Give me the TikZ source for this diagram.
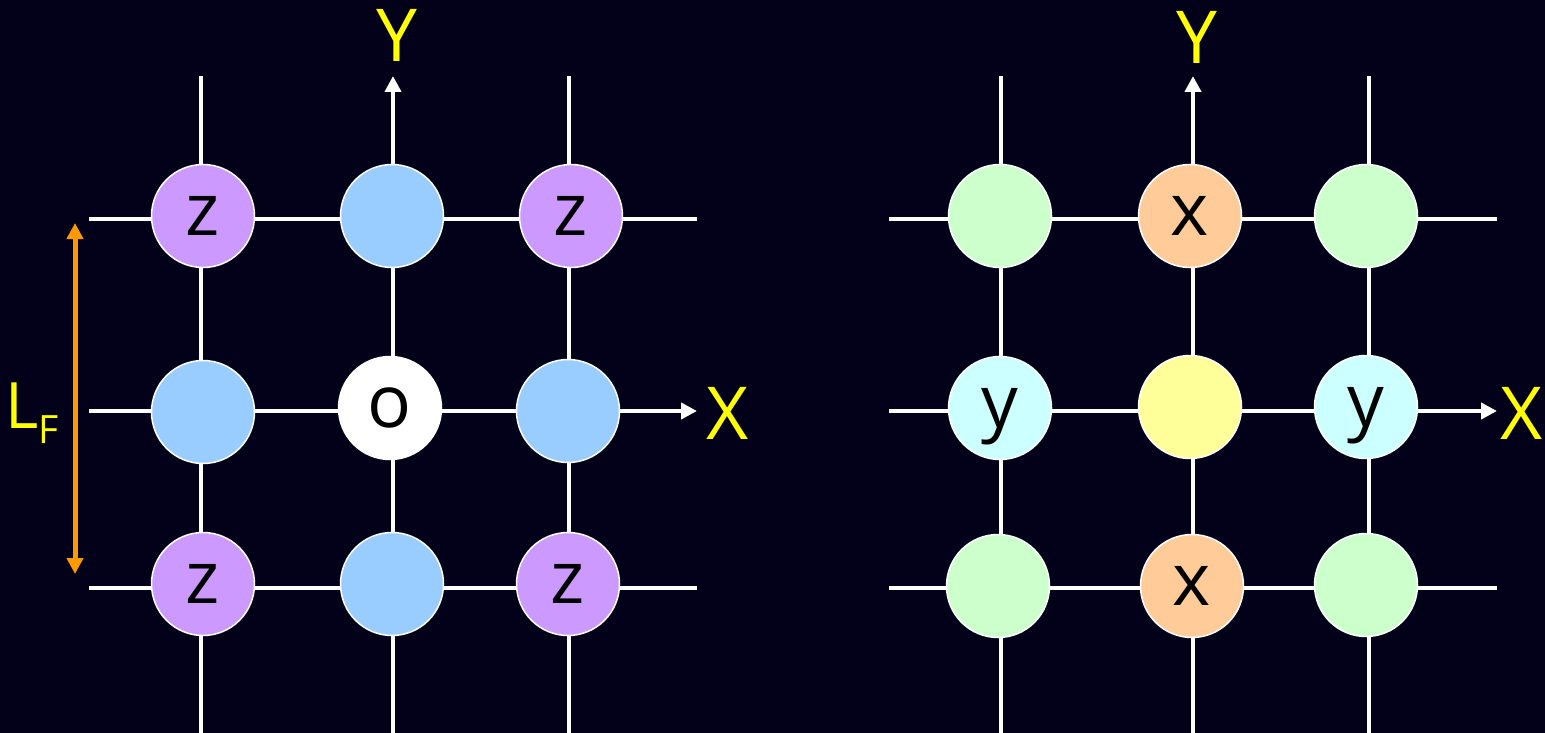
\documentclass[tikz,border=0pt]{standalone}
\usepackage{fontspec}
\setmainfont{Open Sans}
\usetikzlibrary{arrows.meta}
\definecolor{bg}{HTML}{03001A}
\definecolor{axisyellow}{HTML}{FFFF00}
\definecolor{lforange}{HTML}{FF9900}
\definecolor{zpurple}{HTML}{CC99FF}
\definecolor{nblue}{HTML}{99CCFF}
\definecolor{ngreen}{HTML}{CCFFCC}
\definecolor{xorange}{HTML}{FFCC99}
\definecolor{ycyan}{HTML}{CCFFFF}
\definecolor{cyellow}{HTML}{FFFF99}
\begin{document}
\begin{tikzpicture}[x=1pt,y=-1pt,
  gridline/.style={white,line width=4pt},
  axisarrow/.style={white,line width=4pt,-{Triangle[length=16pt,width=16pt]}},
  site/.style={circle,draw=white,line width=1.5pt,minimum size=103pt,inner sep=0pt,
    text depth=0pt,font=\fontsize{73}{73}\selectfont,text=black},
  axlabel/.style={text=axisyellow,font=\fontsize{73}{73}\selectfont,anchor=base,inner sep=0pt},
  lfarrow/.style={lforange,line width=5pt,{Triangle[length=16pt,width=16pt]}-{Triangle[length=16pt,width=16pt]}}
]
\fill[bg] (0,0) rectangle (1545,733);
\useasboundingbox (0,0) rectangle (1545,733);

% ---------- left lattice: line ends ----------
\coordinate (Lv1t) at (201,76);  \coordinate (Lv1b) at (201,733);
\coordinate (Lv2t) at (393,76);  \coordinate (Lv2b) at (393,733);
\coordinate (Lv3t) at (569,76);  \coordinate (Lv3b) at (569,733);
\coordinate (Lh1l) at (89,219);  \coordinate (Lh1r) at (697,219);
\coordinate (Lh2l) at (89,411);  \coordinate (Lh2r) at (697,411);
\coordinate (Lh3l) at (89,588);  \coordinate (Lh3r) at (697,588);
\draw[gridline] (Lv1b) -- (Lv1t);
\draw[axisarrow] (Lv2b) -- (Lv2t);
\draw[gridline] (Lv3b) -- (Lv3t);
\draw[gridline] (Lh1l) -- (Lh1r);
\draw[axisarrow] (Lh2l) -- (Lh2r);
\draw[gridline] (Lh3l) -- (Lh3r);

% ---------- right lattice: line ends ----------
\coordinate (Rv1t) at (1001,76);  \coordinate (Rv1b) at (1001,733);
\coordinate (Rv2t) at (1193,76);  \coordinate (Rv2b) at (1193,733);
\coordinate (Rv3t) at (1369,76);  \coordinate (Rv3b) at (1369,733);
\coordinate (Rh1l) at (889,219);  \coordinate (Rh1r) at (1497,219);
\coordinate (Rh2l) at (889,411);  \coordinate (Rh2r) at (1497,411);
\coordinate (Rh3l) at (889,588);  \coordinate (Rh3r) at (1497,588);
\draw[gridline] (Rv1b) -- (Rv1t);
\draw[axisarrow] (Rv2b) -- (Rv2t);
\draw[gridline] (Rv3b) -- (Rv3t);
\draw[gridline] (Rh1l) -- (Rh1r);
\draw[axisarrow] (Rh2l) -- (Rh2r);
\draw[gridline] (Rh3l) -- (Rh3r);

% ---------- left sites ----------
\node[site,fill=zpurple] (L11) at (203,216) {z};
\node[site,fill=nblue]   (L12) at (392,216) {};
\node[site,fill=zpurple] (L13) at (571,216) {z};
\node[site,fill=nblue]   (L21) at (203,412) {};
\node[site,fill=white]   (L22) at (390,408) {o};
\node[site,fill=nblue]   (L23) at (568,411) {};
\node[site,fill=zpurple] (L31) at (203,584) {z};
\node[site,fill=nblue]   (L32) at (392,584) {};
\node[site,fill=zpurple] (L33) at (568,584) {z};

% ---------- right sites ----------
\node[site,fill=ngreen]  (R11) at (1000,216) {};
\node[site,fill=xorange] (R12) at (1190,216) {x};
\node[site,fill=ngreen]  (R13) at (1366,216) {};
\node[site,fill=ycyan]   (R21) at (1000,408) {y};
\node[site,fill=cyellow] (R22) at (1190,407) {};
\node[site,fill=ycyan]   (R23) at (1366,407) {y};
\node[site,fill=ngreen]  (R31) at (998,586) {};
\node[site,fill=xorange] (R32) at (1192,586) {x};
\node[site,fill=ngreen]  (R33) at (1366,585) {};

% ---------- axis labels ----------
\node[axlabel] (LY) at (397,62) {Y};
\node[axlabel] (LX) at (728,439) {X};
\node[axlabel] (RY) at (1197,64) {Y};
\node[axlabel] (RX) at (1522,439) {X};

% ---------- lattice constant ----------
\coordinate (LFt) at (75,223);
\coordinate (LFb) at (75,574);
\draw[lfarrow] (LFt) -- (LFb);
\node[anchor=base west,inner sep=0pt,text=axisyellow] (LF) at (5,428)
  {\fontsize{64}{64}\selectfont L\raisebox{-15pt}{\fontsize{39}{39}\selectfont F}};
\end{tikzpicture}
\end{document}
